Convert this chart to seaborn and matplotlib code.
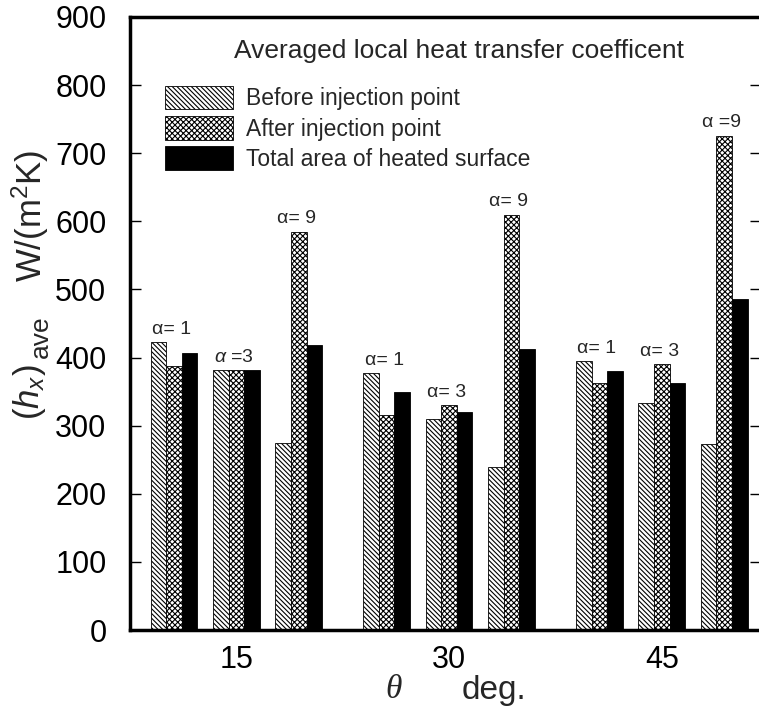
import numpy as np
import pandas as pd
import matplotlib
matplotlib.use("Agg")
import matplotlib.pyplot as plt
import matplotlib.patches as mpatches
import seaborn as sns

# data, theta-major, alpha = 1, 3, 9 within each theta
THETA = [15, 30, 45]
ALPHA = [1, 3, 9]
SERIES = ["Before injection point", "After injection point", "Total area of heated surface"]
BEFORE = [423, 381, 274, 377, 310, 239, 395, 334, 273]
AFTER = [387, 381, 585, 316, 330, 610, 362, 390, 726]
TOTAL = [406, 381, 419, 350, 320, 412, 380, 362, 486]
ALPHA_LABELS = ["α= 1", r"$\alpha$ =3", "α= 9",
                "α= 1", "α= 3", "α= 9",
                "α= 1", "α= 3", "α =9"]
YTICKS = np.arange(0, 901, 100)

ALPHA_STEP = 4.4  # spacing between the alpha triples inside one theta group
HATCHES = ["\\" * 7, "x" * 6, ""]
FACES = ["white", "white", "black"]

sns.set_theme(style="ticks")
plt.rcParams["font.family"] = ["Liberation Sans", "DejaVu Sans"]
plt.rcParams.update({
    "mathtext.fontset": "custom",
    "mathtext.rm": "Liberation Sans",
    "mathtext.it": "Liberation Sans:italic",
    "hatch.linewidth": 0.8,
})

rows = []
pairs = [(t, a) for t in THETA for a in ALPHA]
for i, (t, a) in enumerate(pairs):
    pos = t + (ALPHA.index(a) - 1) * ALPHA_STEP
    for s, vals in zip(SERIES, [BEFORE, AFTER, TOTAL]):
        rows.append({"pos": pos, "series": s, "value": vals[i]})
df = pd.DataFrame(rows)

fig = plt.figure(figsize=(7.59, 7.08), dpi=100)
ax = fig.add_axes([130 / 759, 1 - 630 / 708, 631 / 759, 613 / 708])

sns.barplot(data=df, x="pos", y="value", hue="series", hue_order=SERIES,
            native_scale=True, width=0.75, errorbar=None, legend=False,
            edgecolor="black", linewidth=0.6, ax=ax)

for cont, h, fc in zip(ax.containers, HATCHES, FACES):
    for p in cont.patches:
        p.set_facecolor(fc)
        p.set_edgecolor("black")
        p.set_hatch(h)

# alpha labels above each triple
for i, (t, a) in enumerate(pairs):
    pos = t + (ALPHA.index(a) - 1) * ALPHA_STEP
    top = max(BEFORE[i], AFTER[i], TOTAL[i])
    ax.annotate(ALPHA_LABELS[i], xy=(pos - 0.75 * ALPHA_STEP / 2, top),
                xytext=(1, 3), textcoords="offset points",
                ha="left", va="bottom", fontsize=14)

ax.set_xlim(7.5, 52.0)
ax.set_ylim(0, 900)
ax.set_yticks(YTICKS)
ax.set_xticks(THETA)
ax.set_xticklabels([str(t) for t in THETA])
ax.tick_params(axis="y", direction="in", length=8, width=1, right=True,
               labelsize=22, pad=17, colors="black")
ax.tick_params(axis="x", length=0, labelsize=22, pad=11, colors="black")
ax.set_xlabel("")
ax.set_ylabel("")
for sp in ax.spines.values():
    sp.set_visible(True)
    sp.set_linewidth(2.5)
    sp.set_color("black")

handles = [mpatches.Patch(facecolor=fc, edgecolor="black", hatch=h, linewidth=0.6)
           for h, fc in zip(HATCHES, FACES)]
ax.legend(handles, SERIES, loc="upper left", bbox_to_anchor=(165 / 759, 1 - 86 / 708),
          bbox_transform=fig.transFigure, frameon=False, fontsize=16.5,
          handlelength=2.95, handleheight=1.2, handletextpad=0.57,
          labelspacing=0.25, borderpad=0, borderaxespad=0)

fig.text(459 / 759, 1 - 51 / 708, "Averaged local heat transfer coefficent",
         ha="center", va="center", fontsize=19)

# y label, built in three pieces so the "ave" subscript keeps its size
fig.text(30 / 759, 1 - 392 / 708, r"$(h_x)$", rotation=90,
         ha="center", va="center", fontsize=25)
fig.text(41 / 759, 1 - 337 / 708, "ave", rotation=90,
         ha="center", va="center", fontsize=19)
fig.text(30 / 759, 1 - 216 / 708, r"W/(m$^2$K)", rotation=90,
         ha="center", va="center", fontsize=25)

fig.text(394 / 759, 1 - 690 / 708, "θ", ha="center", va="center", fontsize=24,
         family="Liberation Serif", style="italic")
fig.text(494 / 759, 1 - 690 / 708, "deg.", ha="center", va="center", fontsize=24)

fig.savefig("out.png", dpi=100)
